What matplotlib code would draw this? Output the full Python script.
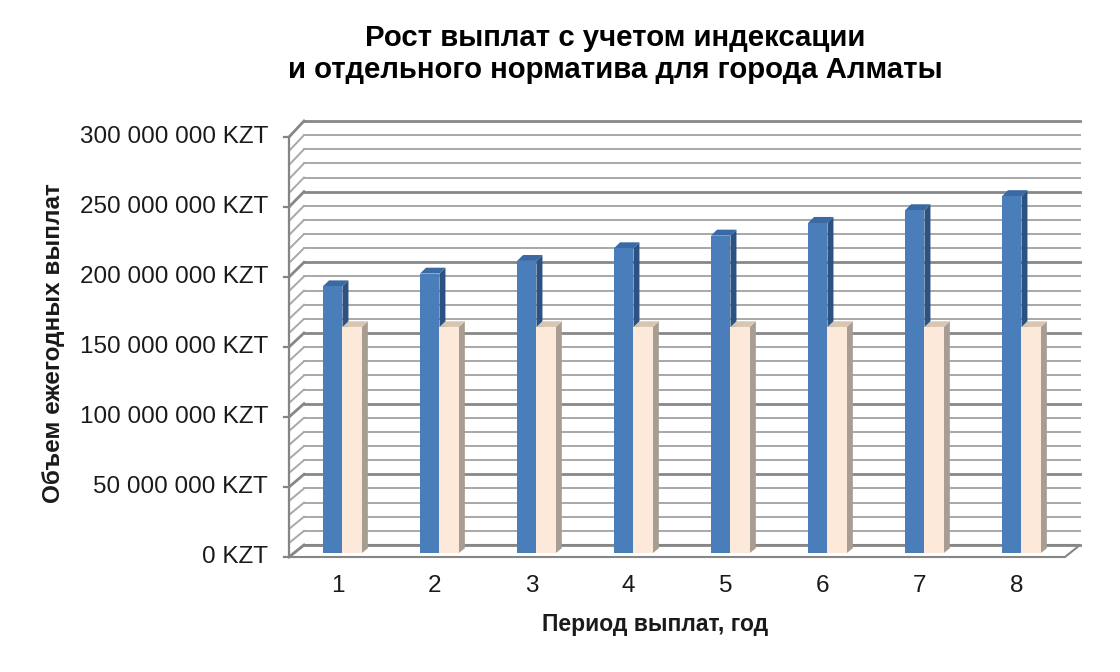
import matplotlib
matplotlib.use("Agg")
import matplotlib.pyplot as plt
from matplotlib.transforms import Affine2D, IdentityTransform
from matplotlib.patches import Polygon
from matplotlib.lines import Line2D

plt.rcParams['font.family'] = ['Liberation Sans', 'DejaVu Sans']

# ---- data ----
periods = ['1', '2', '3', '4', '5', '6', '7', '8']
indexed = [190e6, 199e6, 208e6, 217e6, 226e6, 235e6, 244e6, 254e6]
normative = [161e6, 161e6, 161e6, 161e6, 161e6, 161e6, 161e6, 161e6]
y_ticks = [0, 50e6, 100e6, 150e6, 200e6, 250e6, 300e6]
y_tick_labels = ['0 KZT', '50 000 000 KZT', '100 000 000 KZT', '150 000 000 KZT',
                 '200 000 000 KZT', '250 000 000 KZT', '300 000 000 KZT']
title = 'Рост выплат с учетом индексации\nи отдельного норматива для города Алматы'
xlabel = 'Период выплат, год'
ylabel = 'Объем ежегодных выплат'

W, H = 1120, 672
fig = plt.figure(figsize=(W / 100, H / 100), dpi=100)
fig.patch.set_facecolor('white')
ax = fig.add_axes([289 / W, (H - 557) / H, (1065 - 289) / W, (557 - 137) / H])
ax.set_xlim(0.5, len(periods) + 0.5)
ax.set_ylim(0, 300e6)
ax.axis('off')

DX, DY, K = 15.0, 12.0, 424.0 / 420.0
x0, y0 = ax.transData.transform((0.5, 0))


def depth_tr(d):
    return (Affine2D().translate(-x0, -y0).scale(1, 1 + (K - 1) * d)
            .translate(x0 + DX * d, y0 + DY * d))


def P(x, v, d):
    return depth_tr(d).transform(ax.transData.transform((x, v)))


def seg(p, q, **kw):
    fig.add_artist(Line2D([p[0], q[0]], [p[1], q[1]], transform=IdentityTransform(), **kw))


xl, xr = 0.5, len(periods) + 0.5
# floor
floor = [P(xl, 0, 0), P(xr, 0, 0), P(xr, 0, 1), P(xl, 0, 1)]
fig.add_artist(Polygon(floor, closed=True, transform=IdentityTransform(),
                       facecolor='white', edgecolor='#858585', lw=1.5, zorder=1))

# gridlines on back wall and left wall
for i in range(31):
    v = i * 10e6
    major = (i % 5 == 0)
    col = '#878787' if major else '#a8a8a8'
    lw = 2.0 if major else 1.4
    seg(P(xl, v, 1), P(xr, v, 1), color=col, lw=lw, zorder=2)
    seg(P(xl, v, 0), P(xl, v, 1), color=col, lw=lw, zorder=2)

# front value axis
seg(P(xl, 0, 0), P(xl, 300e6, 0), color='#858585', lw=1.6, zorder=3)
for v, lab in zip(y_ticks, y_tick_labels):
    p = P(xl, v, 0)
    seg((p[0] - 5, p[1]), p, color='#858585', lw=1.6, zorder=3)
    fig.text((p[0] - 21) / W, p[1] / H, lab, ha='right', va='center',
             fontsize=17.5, color='#1a1a1a')

# bars
d0, d1 = 0.33, 0.73
bw = 0.2
xs = list(range(1, len(periods) + 1))
series = [
    (indexed, [x - bw for x in xs], '#4a7ebb', '#2c5282', '#3a69a3'),
    (normative, xs, '#fde9d9', '#a79d92', '#d8c6b2'),
]
tr_front = ax.transData + depth_tr(d0)
for k in range(len(xs)):
    for vals, lefts, cf, cs, ct in series:
        left = lefts[k]
        h = vals[k]
        right = left + bw
        side = [P(right, 0, d0), P(right, 0, d1), P(right, h, d1), P(right, h, d0)]
        top = [P(left, h, d0), P(right, h, d0), P(right, h, d1), P(left, h, d1)]
        z = 5 + k * 0.1
        fig.add_artist(Polygon(side, closed=True, transform=IdentityTransform(),
                               facecolor=cs, edgecolor='none', zorder=z))
        fig.add_artist(Polygon(top, closed=True, transform=IdentityTransform(),
                               facecolor=ct, edgecolor='none', zorder=z))
        bars = ax.bar([left], [h], width=bw, align='edge', color=cf,
                      transform=tr_front, clip_on=False, zorder=z)
        for b in bars:
            b.remove()
            b.set_zorder(z + 0.01)
            b.set_transform(tr_front)
            fig.add_artist(b)

# x tick labels
for x, lab in zip(xs, periods):
    p = P(x, 0, 0)
    fig.text(p[0] / W, (H - 586) / H, lab, ha='center', va='center',
             fontsize=17.5, color='#1a1a1a')

fig.text(655 / W, (H - 624) / H, xlabel, ha='center', va='center',
         fontsize=16.5, fontweight='bold', color='#1a1a1a')
fig.text(54 / W, (H - 343) / H, ylabel, ha='center', va='center', rotation=90,
         fontsize=17.5, fontweight='bold', color='#1a1a1a')
fig.text(615 / W, (H - 54) / H, title, ha='center', va='center',
         fontsize=21.2, fontweight='bold', color='#000000', linespacing=1.2)

fig.savefig('out.png', dpi=100, facecolor='white')
